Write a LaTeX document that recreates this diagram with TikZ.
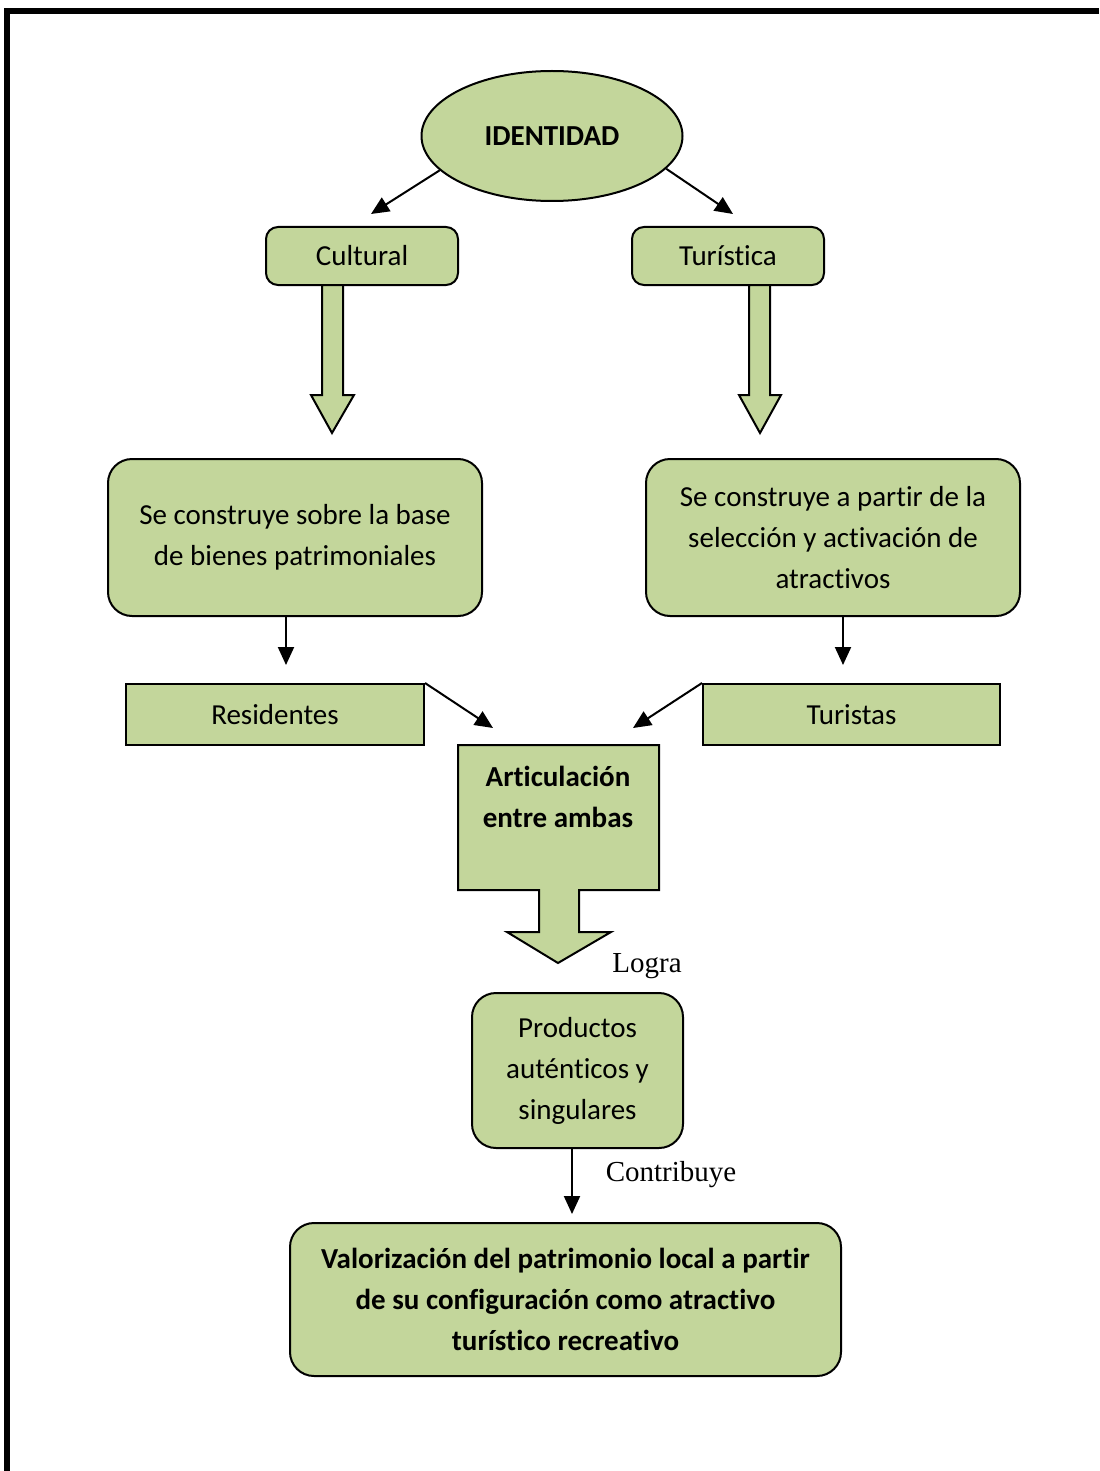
\documentclass[tikz,border=0pt]{standalone}
\usepackage{fontspec}
\setmainfont{Carlito}[Ligatures=NoCommon]
\newfontfamily\timesfont{Liberation Serif}
\usetikzlibrary{shapes.geometric,arrows.meta}
\definecolor{olivefill}{RGB}{195,214,155}

\begin{document}
\begin{tikzpicture}[x=0.5pt,y=-0.5pt,
		box/.style={draw,fill=olivefill,line width=1pt,rounded corners=6pt,inner sep=0pt,align=center,font=\fontsize{14.5}{20.5}\selectfont},
		bigbox/.style={box,rounded corners=12pt},
		flatbox/.style={box,rounded corners=0pt},
		link/.style={line width=1pt,-{Triangle[length=9pt,width=8pt]}},
		fat/.style={draw,fill=olivefill,line width=1pt,line join=miter},
		note/.style={font=\timesfont\fontsize{14.5}{17}\selectfont}]

		\useasboundingbox (0,0) rectangle (1099,1471);
		\draw [line width=3pt] (7,1471) -- (7,11) -- (1099,11);

		\node [box,ellipse,minimum width=130.5pt,minimum height=65pt,font=\fontsize{14.5}{20.5}\selectfont\bfseries] (ident) at (552,136) {IDENTIDAD};
		\node [box,minimum width=96pt,minimum height=29pt] (cult) at (362,256) {Cultural};
		\node [box,minimum width=96pt,minimum height=29pt] (turis) at (728,256) {Turística};
		\coordinate (c1) at (371,214);
		\coordinate (c2) at (733,214);
		\draw [link] (ident.197) to (c1);
		\draw [link] (ident.344) to (c2);

		\draw [fat] (322,285) -- (322,395) -- (311,395) -- (332,433) -- (354,395) -- (343,395) -- (343,285) -- cycle;
		\draw [fat] (749,285) -- (749,395) -- (739,395) -- (760,433) -- (781,395) -- (770,395) -- (770,285) -- cycle;

		\node [bigbox,minimum width=187pt,minimum height=78.5pt] (cons1) at (295,537.5) {Se construye sobre la base\\de bienes patrimoniales};
		\node [bigbox,minimum width=187pt,minimum height=78.5pt] (cons2) at (833,537.5) {Se construye a partir de la\\selección y activación de\\atractivos};
		\coordinate (c3) at (286,665);
		\coordinate (c4) at (843,665);
		\draw [link] (c3 |- cons1.south) to (c3);
		\draw [link] (c4 |- cons2.south) to (c4);

		\node [flatbox,minimum width=149pt,minimum height=30.5pt] (resi) at (275,714.5) {Residentes};
		\node [flatbox,minimum width=148.5pt,minimum height=30.5pt] (turi) at (851.5,714.5) {Turistas};
		\coordinate (c5) at (493,728);
		\coordinate (c6) at (633,728);
		\draw [link] (resi.north east) to (c5);
		\draw [link] (turi.north west) to (c6);

		\draw [fat] (458,745) -- (659,745) -- (659,890) -- (579,890) -- (579,932) -- (611,932) -- (558,963)
			-- (507,932) -- (539,932) -- (539,890) -- (458,890) -- cycle;
		\node [align=center,inner sep=0pt,font=\fontsize{14.5}{20.5}\selectfont\bfseries] (artic) at (558,797) {Articulación\\entre ambas};
		\node [note] (logra) at (647,966) {Logra};

		\node [bigbox,minimum width=105.5pt,minimum height=77.5pt] (prod) at (577.5,1070.5) {Productos\\auténticos y\\singulares};
		\coordinate (c7) at (572,1214);
		\draw [link] (c7 |- prod.south) to (c7);
		\node [note] (contri) at (671,1175) {Contribuye};

		\node [bigbox,minimum width=275.5pt,minimum height=76.5pt,font=\fontsize{14.5}{20.5}\selectfont\bfseries] (valor) at (565.5,1299.5) {Valorización del patrimonio local a partir\\de su configuración como atractivo\\turístico recreativo};

\end{tikzpicture}
\end{document}
